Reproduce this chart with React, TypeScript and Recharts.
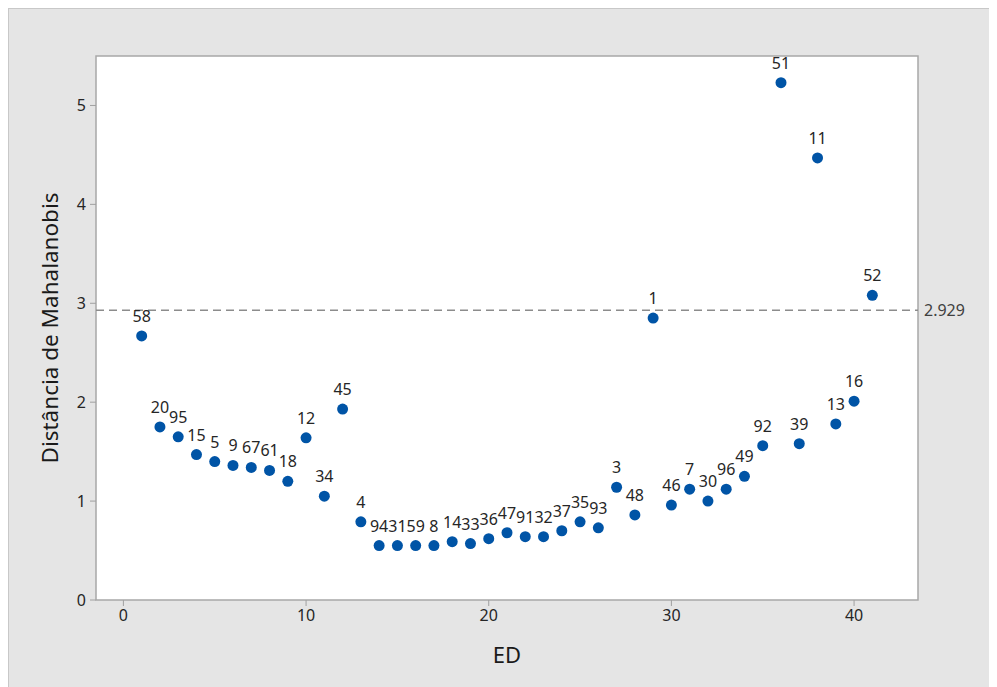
import React from 'react';
import { ScatterChart, Scatter, XAxis, YAxis, ReferenceLine, ReferenceArea } from 'recharts';

const edValues = [1,2,3,4,5,6,7,8,9,10,11,12,13,14,15,16,17,18,19,20,21,22,23,24,25,26,27,28,29,30,31,32,33,34,35,36,37,38,39,40,41];
const distances = [2.67,1.75,1.65,1.47,1.40,1.36,1.34,1.31,1.20,1.64,1.05,1.93,0.79,0.55,0.55,0.55,0.55,0.59,0.57,0.62,0.68,0.64,0.64,0.70,0.79,0.73,1.14,0.86,2.85,0.96,1.12,1.00,1.12,1.25,1.56,5.23,1.58,4.47,1.78,2.01,3.08];
const pointLabels = ['58','20','95','15','5','9','67','61','18','12','34','45','4','94','31','59','8','14','33','36','47','91','32','37','35','93','3','48','1','46','7','30','96','49','92','51','39','11','13','16','52'];
const xTicks = [0, 10, 20, 30, 40];
const yTicks = [0, 1, 2, 3, 4, 5];
const threshold = 2.929;

const data = edValues.map((x, i) => ({ x, y: distances[i], label: pointLabels[i] }));

const FONT = '"Noto Sans", "Open Sans", sans-serif';

const Dot = (props: any) => {
  const { cx, cy, payload } = props;
  return (
    <g>
      <circle cx={cx} cy={cy} r={5.5} fill="#0054a6" />
      <text x={cx} y={cy - 14} textAnchor="middle" fontSize={16} fontFamily={FONT} fill="#262626">
        {payload.label}
      </text>
    </g>
  );
};

export default function App() {
  return (
    <div style={{ width: 989, height: 679, background: '#e5e5e5', borderTop: '1px solid #c8c8c8', borderLeft: '1px solid #c8c8c8', boxSizing: 'border-box' }}>
      <ScatterChart width={988} height={678} margin={{ top: 47, right: 79, bottom: 0, left: 0 }}>
        <XAxis
          type="number"
          dataKey="x"
          domain={[-1.5, 43.5]}
          ticks={xTicks}
          axisLine={false}
          tickLine={{ stroke: '#a0a0a0' }}
          tickSize={6}
          tickMargin={4}
          tick={{ fontSize: 16, fontFamily: FONT, fill: '#262626' }}
          height={87}
          label={{ value: 'ED', position: 'center', dy: 12, fontSize: 22, fontFamily: FONT, fill: '#1a1a1a' }}
        />
        <YAxis
          type="number"
          dataKey="y"
          domain={[0, 5.5]}
          ticks={yTicks}
          axisLine={false}
          tickLine={{ stroke: '#a0a0a0' }}
          tickSize={6}
          tickMargin={4}
          tick={{ fontSize: 16, fontFamily: FONT, fill: '#262626' }}
          width={87}
          label={{ value: 'Distância de Mahalanobis', angle: -90, position: 'center', dx: -2, fontSize: 22.5, fontFamily: FONT, fill: '#1a1a1a' }}
        />
        <ReferenceArea x1={-1.5} x2={43.5} y1={0} y2={5.5} fill="#ffffff" fillOpacity={1} stroke="#a8a8a8" strokeWidth={1.5} />
        <ReferenceLine
          y={threshold}
          stroke="#8c8c8c"
          strokeWidth={1.5}
          strokeDasharray="8 5"
          label={{ value: '2.929', position: 'right', offset: 6, fontSize: 16, fontFamily: FONT, fill: '#404040' }}
        />
        <Scatter data={data} shape={<Dot />} isAnimationActive={false} />
      </ScatterChart>
    </div>
  );
}
